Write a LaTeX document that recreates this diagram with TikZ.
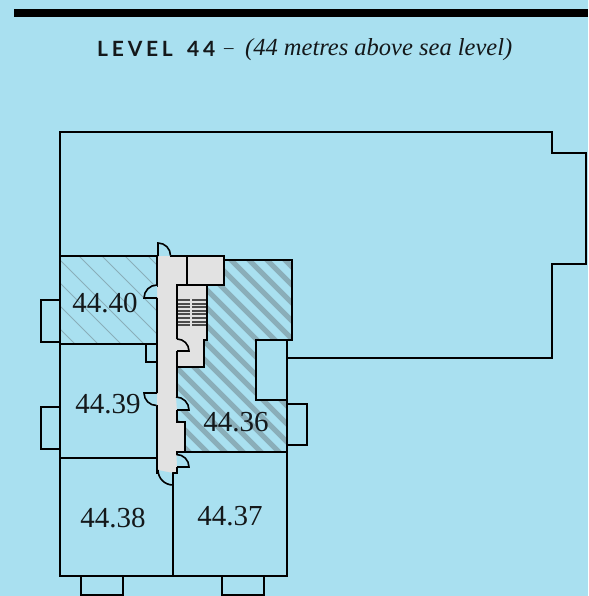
\documentclass[tikz,border=0pt]{standalone}
\usepackage{fontspec}
\newfontfamily\headfont[LetterSpace=18,WordSpace=1.6]{Lato}
\newfontfamily\subfont{Liberation Serif}
\definecolor{seablue}{HTML}{A9E0F0}
\definecolor{coregray}{HTML}{E2E2E2}
\definecolor{hatchgray}{HTML}{8AAEB9}
\definecolor{ink}{HTML}{14181A}
\tikzset{
	wall/.style={draw=black,line width=2.7pt,miter limit=10},
	door/.style={draw=black,line width=1.6pt,fill=#1},
	room/.style={text=ink,font=\subfont\fontsize{29}{30}\selectfont,inner sep=0pt},
}
\begin{document}
\begin{tikzpicture}[x=1pt,y=-1pt]
\useasboundingbox (0,0) rectangle (588,596);
\fill[seablue] (0,0) rectangle (588,596);
\fill[black] (14,9) rectangle (588,17);
\node[anchor=west,inner sep=0pt,text=ink,font=\headfont\bfseries\fontsize{21}{22}\selectfont] (level) at (97,49) {LEVEL 44};
\node[anchor=west,inner sep=0pt,text=ink,font=\subfont\fontsize{19}{20}\selectfont] (dash) at (224,51) {–};
\node[anchor=west,inner sep=0pt,text=ink,font=\subfont\itshape\fontsize{24.5}{26}\selectfont] (sub) at (245,50) {(44 metres above sea level)};
\begin{scope}
	\clip (61,257) rectangle (157,344);
	\foreach \d in {-315,-292,...,-85} {
		\draw[hatchgray,line width=0.8pt] (\d+240,240) -- (\d+360,360);
	}
\end{scope}
\begin{scope}
	\clip (224,260) -- (292,260) -- (292,340) -- (256,340) -- (256,400) -- (287,400)
		-- (287,452) -- (185,452) -- (185,422) -- (178,422) -- (178,367) -- (204,367)
		-- (204,340) -- (207,340) -- (207,285) -- (224,285) -- cycle;
	\foreach \d in {-263,-245,...,43} {
		\draw[hatchgray,line width=5pt] (\d+240,240) -- (\d+480,480);
	}
\end{scope}
\fill[coregray] (157,256) -- (224,256) -- (224,285) -- (207,285) -- (207,340) -- (204,340)
	-- (204,367) -- (178,367) -- (178,422) -- (185,422) -- (185,452) -- (177,452)
	-- (177,473) -- (157,473) -- cycle;
\foreach \t in {300,303.6,...,327} {
	\draw[black!70,line width=2pt] (178,\t) -- (190,\t) (192,\t) -- (206,\t);
}
\draw[wall] (287,358) -- (552,358) -- (552,264) -- (586,264) -- (586,153) -- (552,153)
	-- (552,132) -- (60,132) -- (60,576) -- (287,576) -- (287,340);
\draw[wall] (60,256) -- (157,256) -- (157,287) (157,298) -- (157,393) (157,405) -- (157,473) -- (159,473);
\draw[wall] (170,256) -- (224,256) -- (224,285) -- (177,285) -- (177,339) (177,351) -- (177,397)
	(177,410) -- (177,422) -- (185,422) -- (185,452) -- (177,452) -- (177,455) (177,467) -- (177,473) -- (173,473) -- (173,576);
\draw[wall] (187,256) -- (187,285);
\draw[wall] (207,285) -- (207,340) -- (204,340) -- (204,367) -- (177,367);
\draw[wall] (224,260) -- (292,260) -- (292,340) -- (256,340) -- (256,400) -- (287,400);
\draw[wall] (185,452) -- (287,452);
\draw[wall] (60,344) -- (157,344);
\draw[wall] (60,458) -- (157,458);
\draw[wall] (146,344) -- (146,362) -- (157,362);
\draw[wall] (60,300) -- (41,300) -- (41,342) -- (60,342);
\draw[wall] (60,407) -- (41,407) -- (41,449) -- (60,449);
\draw[wall] (287,404) -- (307,404) -- (307,445) -- (287,445);
\draw[wall] (81,576) -- (81,595.5) -- (123,595.5) -- (123,576);
\draw[wall] (222,576) -- (222,595.5) -- (264,595.5) -- (264,576);
\draw[door=seablue] (158,256) -- (158,243) arc (-90:0:12.5);
\draw[door=seablue] (157,298) -- (144,298) arc (180:270:13);
\draw[door=seablue] (157,393) -- (144,393) arc (180:90:12.5);
\draw[door=seablue] (177,410) -- (189,410) arc (0:-90:13);
\draw[door=seablue] (177,467) -- (189,467) arc (0:-90:12.5);
\draw[door=seablue] (173,473) -- (173,485) arc (90:180:15);
\draw[door=coregray] (177,351) -- (189,351) arc (0:-90:12);
\node[room] (r4440) at (105,303) {44.40};
\node[room] (r4439) at (108,404) {44.39};
\node[room] (r4436) at (236,422) {44.36};
\node[room] (r4438) at (113,518) {44.38};
\node[room] (r4437) at (230,516) {44.37};
\end{tikzpicture}
\end{document}
